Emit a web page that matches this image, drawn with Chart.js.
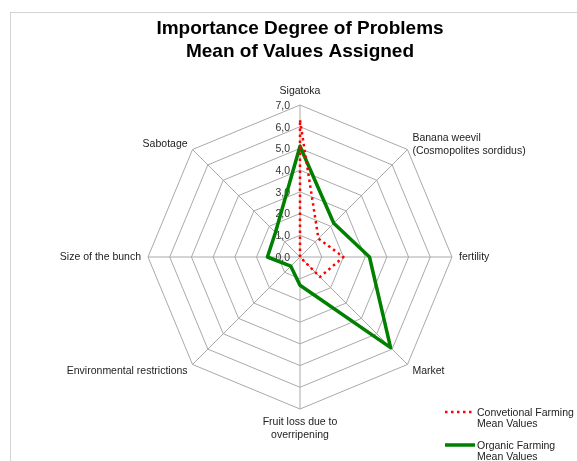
<!DOCTYPE html>
<html>
<head>
<meta charset="utf-8">
<script src="https://cdn.jsdelivr.net/npm/chart.js@4"></script>
<style>
  html, body { margin: 0; padding: 0; background: #fff; }
  #wrap { width: 577px; height: 461px; position: relative; overflow: hidden; }
  canvas { display: block; }
</style>
</head>
<body>
<div id="wrap"><canvas id="c" width="577" height="461"></canvas></div>
<script>
// Problem categories, clockwise from the top
const problems = [
  'Sigatoka',
  ['Banana weevil', '(Cosmopolites sordidus)'],
  'fertility',
  'Market',
  ['Fruit loss due to', 'overripening'],
  'Environmental restrictions',
  'Size of the bunch',
  'Sabotage'
];

// Mean importance values per farming system
const conventionalMeans = [6.3, 1.2, 2.0, 1.3, 0, 0, 0, 0];
const organicMeans      = [5.1, 2.2, 3.2, 5.9, 1.3, 0.6, 1.5, 1.6];

const seriesNames = ['Convetional Farming Mean Values', 'Organic Farming Mean Values'];
const tickLabels  = ['0,0', '1,0', '2,0', '3,0', '4,0', '5,0', '6,0', '7,0'];
const titleLines  = ['Importance Degree of Problems', 'Mean of Values Assigned'];

const FONT = '"Liberation Sans", Arial, sans-serif';

// White page with the thin outer frame of the chart object
const frame = {
  id: 'frame',
  beforeDraw(chart) {
    const ctx = chart.ctx;
    ctx.save();
    ctx.fillStyle = '#ffffff';
    ctx.fillRect(0, 0, chart.width, chart.height);
    ctx.strokeStyle = '#d4d4d4';
    ctx.lineWidth = 1;
    ctx.strokeRect(10.5, 12.5, 800, 800);
    ctx.restore();
  }
};

// Value labels left of the vertical axis and category labels around the web
const axisText = {
  id: 'axisText',
  beforeDatasetsDraw(chart) {
    const s = chart.scales.r;
    const ctx = chart.ctx;
    ctx.save();
    ctx.font = '10.5px ' + FONT;
    ctx.fillStyle = '#333';
    ctx.textAlign = 'right';
    ctx.textBaseline = 'middle';
    tickLabels.forEach((t, v) => {
      const y = s.yCenter - s.getDistanceFromCenterForValue(v);
      ctx.fillText(t, s.xCenter - 10, y + 1);
    });

    ctx.fillStyle = '#222';
    const lh = 13;
    chart.data.labels.forEach((lab, i) => {
      const lines = Array.isArray(lab) ? lab : [lab];
      const p = s.getPointPosition(i, s.drawingArea + 7);
      const a = s.getIndexAngle(i);
      const sx = Math.sin(a), up = Math.cos(a);
      ctx.textAlign = sx > 0.1 ? 'left' : (sx < -0.1 ? 'right' : 'center');
      const h = lines.length * lh;
      let yc = p.y;
      if (up > 0.9) yc = p.y - h / 2;
      else if (up < -0.9) yc = p.y + h / 2;
      else if (up < -0.1) yc = p.y + 2;
      lines.forEach((ln, k) => ctx.fillText(ln, p.x, yc - h / 2 + lh / 2 + k * lh));
    });
    ctx.restore();
  }
};

// Series key in the lower right corner, names wrapped over two lines
const seriesKey = {
  id: 'seriesKey',
  afterDraw(chart) {
    const ctx = chart.ctx;
    const x0 = 445, sampleW = 30, textX = 477, lh = 11.5, maxW = 100;
    const rows = [412, 445];
    ctx.save();
    ctx.font = '10.5px ' + FONT;
    chart.data.datasets.forEach((ds, i) => {
      const y = rows[i];
      ctx.strokeStyle = ds.borderColor;
      ctx.lineWidth = ds.borderWidth;
      ctx.lineCap = ds.borderCapStyle || 'butt';
      ctx.setLineDash(ds.borderDash || []);
      ctx.beginPath();
      ctx.moveTo(x0, y);
      ctx.lineTo(x0 + sampleW, y);
      ctx.stroke();
      ctx.setLineDash([]);

      const words = ds.label.split(' ');
      const lines = [];
      let cur = '';
      words.forEach(w => {
        const t = cur ? cur + ' ' + w : w;
        if (cur && ctx.measureText(t).width > maxW) { lines.push(cur); cur = w; }
        else cur = t;
      });
      lines.push(cur);
      ctx.fillStyle = '#222';
      ctx.textAlign = 'left';
      ctx.textBaseline = 'middle';
      lines.forEach((ln, k) => ctx.fillText(ln, textX, y + 1 + k * lh));
    });
    ctx.restore();
  }
};

new Chart(document.getElementById('c'), {
  type: 'radar',
  data: {
    labels: problems,
    datasets: [
      {
        label: seriesNames[0],
        data: conventionalMeans,
        borderColor: '#ff0000',
        borderWidth: 2.5,
        borderDash: [2.5, 3.5],
        borderCapStyle: 'butt',
        borderJoinStyle: 'round',
        fill: false,
        pointRadius: 0,
        tension: 0
      },
      {
        label: seriesNames[1],
        data: organicMeans,
        borderColor: '#008000',
        borderWidth: 3.5,
        borderJoinStyle: 'round',
        fill: false,
        pointRadius: 0,
        tension: 0
      }
    ]
  },
  options: {
    responsive: false,
    animation: false,
    devicePixelRatio: 1,
    layout: { padding: { left: 148, right: 125, top: 0, bottom: 51.5 } },
    plugins: {
      legend: { display: false },
      tooltip: { enabled: false },
      title: {
        display: true,
        text: titleLines,
        color: '#000',
        font: { family: FONT, size: 19, weight: 'bold', lineHeight: 1.22 },
        padding: { top: 17, bottom: 42 }
      }
    },
    scales: {
      r: {
        min: 0,
        max: 7,
        ticks: { stepSize: 1, display: false },
        grid: { color: '#aaaaaa', lineWidth: 1 },
        angleLines: { color: '#aaaaaa', lineWidth: 1 },
        pointLabels: { display: false }
      }
    }
  },
  plugins: [frame, axisText, seriesKey]
});
</script>
</body>
</html>
